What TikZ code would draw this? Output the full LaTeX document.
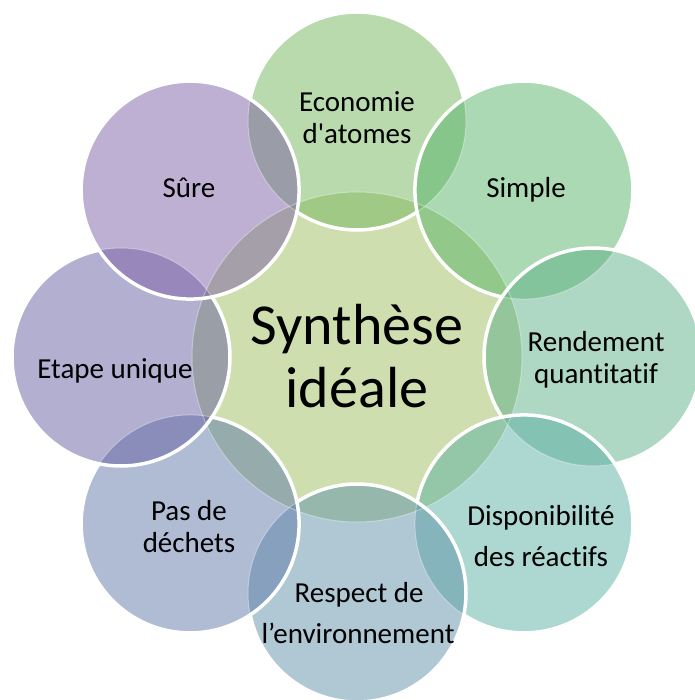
\documentclass[tikz,border=0pt]{standalone}
\usepackage{fontspec}
\setmainfont{Carlito}[Ligatures={TeXOff,CommonOff}]
\definecolor{cC}{RGB}{207,222,174}
\definecolor{cE}{RGB}{113,181,91}
\definecolor{cS}{RGB}{87,179,103}
\definecolor{cR}{RGB}{93,175,137}
\definecolor{cD}{RGB}{91,175,163}
\definecolor{cRe}{RGB}{95,145,169}
\definecolor{cP}{RGB}{95,121,169}
\definecolor{cEt}{RGB}{101,95,161}
\definecolor{cSu}{RGB}{125,97,165}
\newcommand\outsideof[1]{\clip (-60,-60) -- (760,-60) -- (760,760) -- (-60,760) -- cycle (c#1) circle[radius=109pt];}
\begin{document}
\begin{tikzpicture}[x=1pt,y=-1pt,
  outerfill/.style={fill opacity=0.5},
  faintline/.style={draw=white,draw opacity=0.35,line width=1pt},
  rim/.style={draw=white,line width=3.5pt},
  lbl/.style={font=\fontsize{29}{32}\selectfont,anchor=base,inner sep=0pt,text=black},
  biglbl/.style={font=\fontsize{58}{62}\selectfont,anchor=base,inner sep=0pt,text=black}]
\useasboundingbox (0,0) rectangle (694,700);
\coordinate (c0) at (357,357);
\coordinate (c1) at (357,121);
\coordinate (c2) at (523.9,190.1);
\coordinate (c3) at (593,357);
\coordinate (c4) at (523.9,523.9);
\coordinate (c5) at (357,593);
\coordinate (c6) at (190.1,523.9);
\coordinate (c7) at (121,357);
\coordinate (c8) at (190.1,190.1);
% fills
\fill[cC] (c0) circle[radius=165pt];
\fill[cE,outerfill] (c1) circle[radius=109pt];
\fill[cS,outerfill] (c2) circle[radius=109pt];
\fill[cR,outerfill] (c3) circle[radius=109pt];
\fill[cD,outerfill] (c4) circle[radius=109pt];
\fill[cRe,outerfill] (c5) circle[radius=109pt];
\fill[cP,outerfill] (c6) circle[radius=109pt];
\fill[cEt,outerfill] (c7) circle[radius=109pt];
\fill[cSu,outerfill] (c8) circle[radius=109pt];
% faint edges seen through later circles
\draw[faintline] (c0) circle[radius=165pt];
\foreach \i in {1,...,8}{\draw[faintline] (c\i) circle[radius=109pt];}
% white rims, hidden under later circles
\begin{scope}[even odd rule]\outsideof1\outsideof2\outsideof3\outsideof4\outsideof5\outsideof6\outsideof7\outsideof8
\draw[rim] (c0) circle[radius=165pt];\end{scope}
\begin{scope}[even odd rule]\outsideof2\outsideof3\outsideof4\outsideof5\outsideof6\outsideof7\outsideof8
\draw[rim] (c1) circle[radius=109pt];\end{scope}
\begin{scope}[even odd rule]\outsideof3\outsideof4\outsideof5\outsideof6\outsideof7\outsideof8
\draw[rim] (c2) circle[radius=109pt];\end{scope}
\begin{scope}[even odd rule]\outsideof4\outsideof5\outsideof6\outsideof7\outsideof8
\draw[rim] (c3) circle[radius=109pt];\end{scope}
\begin{scope}[even odd rule]\outsideof5\outsideof6\outsideof7\outsideof8
\draw[rim] (c4) circle[radius=109pt];\end{scope}
\begin{scope}[even odd rule]\outsideof6\outsideof7\outsideof8
\draw[rim] (c5) circle[radius=109pt];\end{scope}
\begin{scope}[even odd rule]\outsideof7\outsideof8
\draw[rim] (c6) circle[radius=109pt];\end{scope}
\begin{scope}[even odd rule]\outsideof8
\draw[rim] (c7) circle[radius=109pt];\end{scope}
\draw[rim] (c8) circle[radius=109pt];
% labels
\node[biglbl] (t0a) at (357,344) {Synthèse};
\node[biglbl] (t0b) at (357,407) {idéale};
\node[lbl] (t1a) at (357,112) {Economie};
\node[lbl] (t1b) at (357,144) {d'atomes};
\node[lbl] (t2) at (526,198) {Simple};
\node[lbl] (t3a) at (596,351) {Rendement};
\node[lbl] (t3b) at (596,383) {quantitatif};
\node[lbl] (t4a) at (541,525) {Disponibilité};
\node[lbl] (t4b) at (541,566) {des réactifs};
\node[lbl] (t5a) at (359,602) {Respect de};
\node[lbl] (t5b) at (358,643) {l’environnement};
\node[lbl] (t6a) at (189,520) {Pas de};
\node[lbl] (t6b) at (189,552) {déchets};
\node[lbl] (t7) at (115,378) {Etape unique};
\node[lbl] (t8) at (189,198) {Sûre};
\end{tikzpicture}
\end{document}
